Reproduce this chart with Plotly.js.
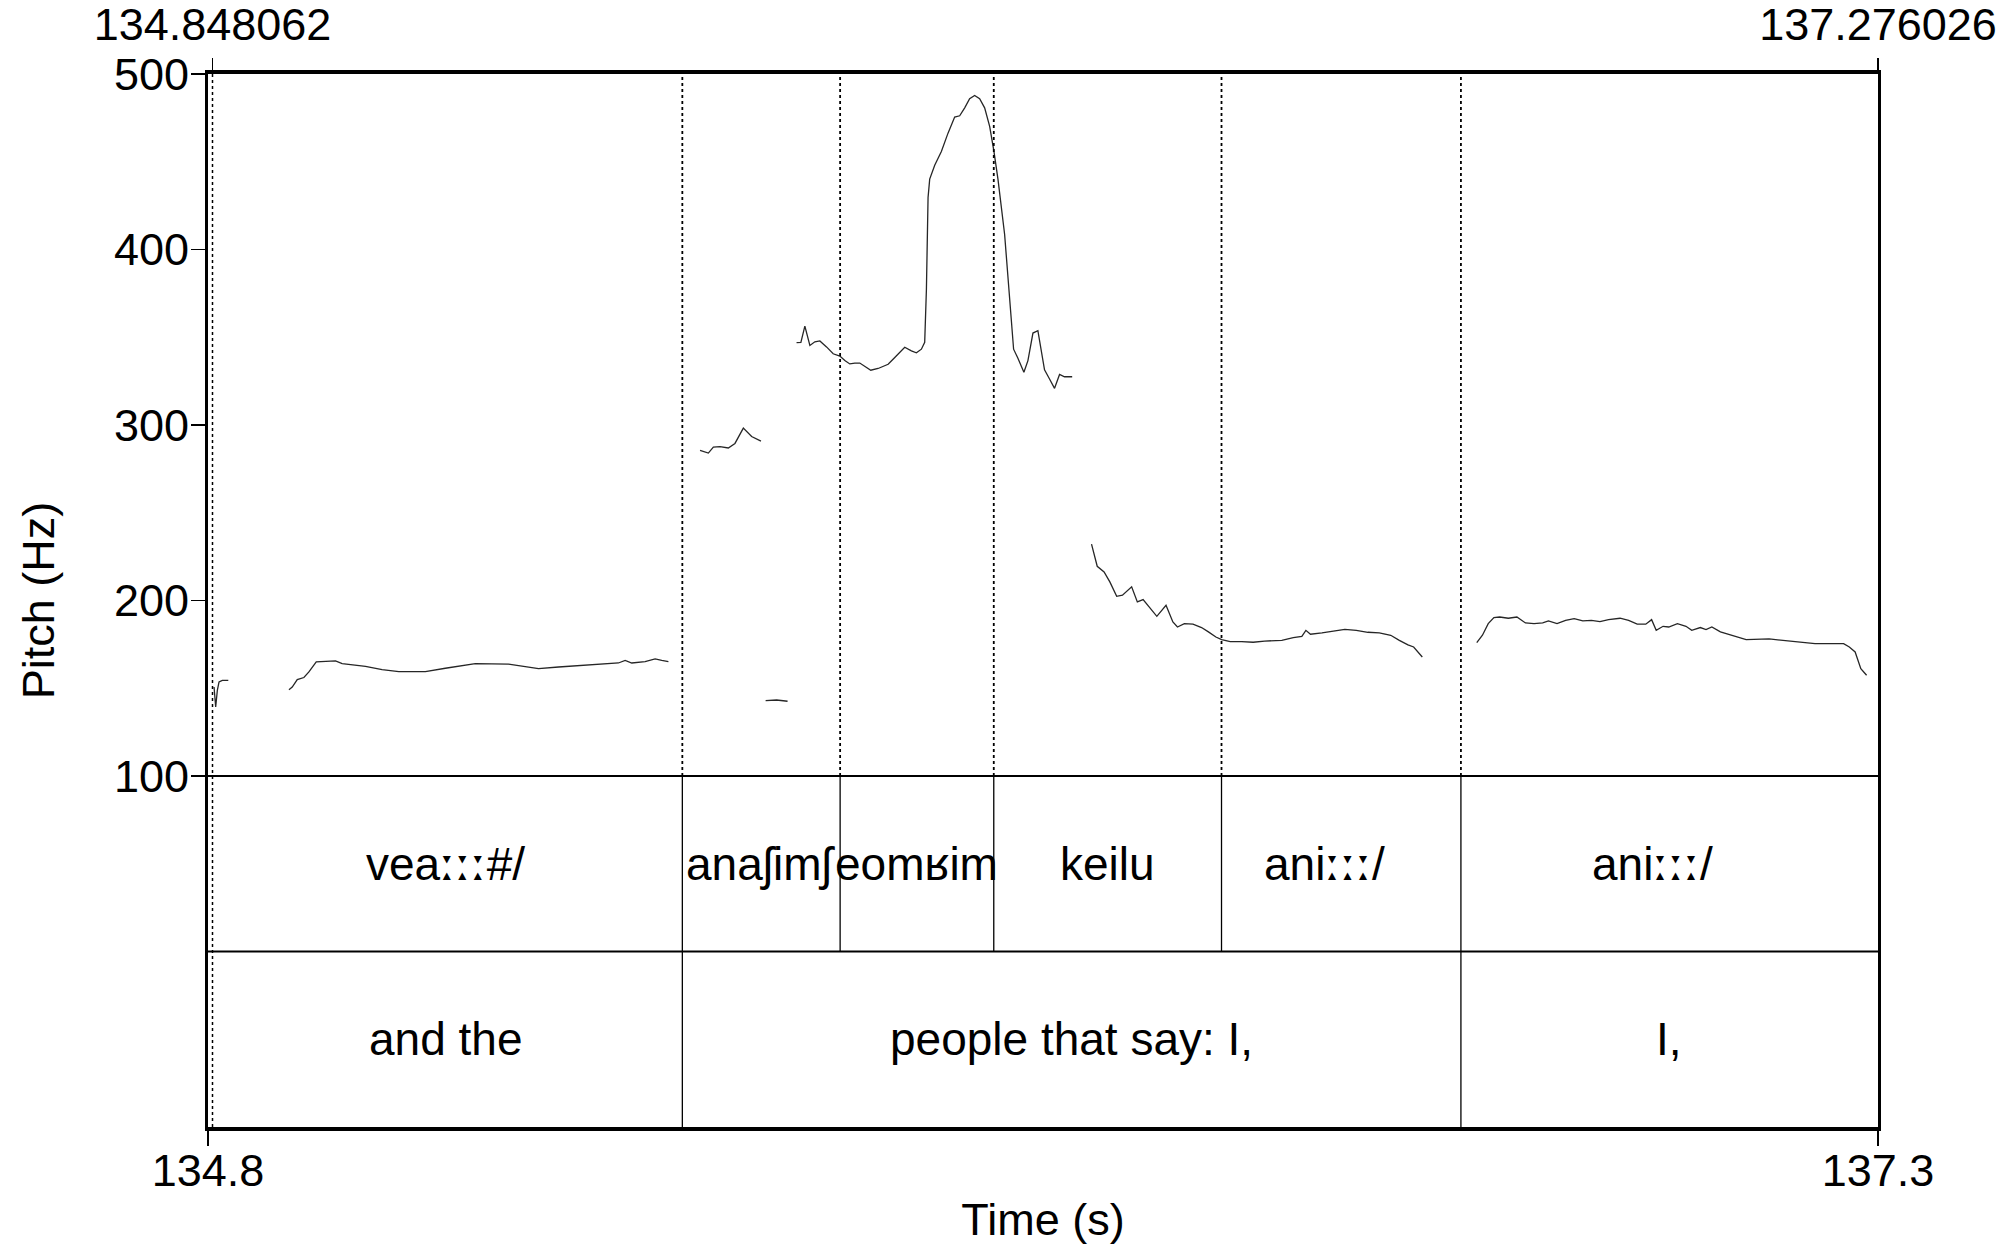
<!DOCTYPE html>
<html>
<head>
<meta charset="utf-8">
<script src="https://cdn.plot.ly/plotly-3.0.1.min.js"></script>
<style>html,body{margin:0;padding:0;background:#fff;}</style>
</head>
<body>
<div id="chart" style="width:2010px;height:1245px;"></div>
<script>
// ---- Data ----
const windowStart = 134.8415;
const windowEnd = 137.276026;
const topMarkVals = [134.848062, 137.276026];
const topMarkText = ['134.848062', '137.276026'];
const bottomTickVals = [windowStart, windowEnd];
const bottomTickText = ['134.8', '137.3'];
const pitchTicks = [100, 200, 300, 400, 500];

// pitch contour pieces (time in s, F0 in Hz)
const segA_t = [134.8503, 134.8527, 134.8551, 134.8576, 134.8624, 134.8711];
const segA_hz = [150.7, 139.3, 148.8, 153.6, 154.5, 154.5];

const segB_t = [134.9595, 134.9643, 134.9716, 134.9813, 134.9886, 134.9993, 135.0274, 135.0371, 135.0711, 135.0953, 135.1196, 135.1584, 135.1875, 135.2312, 135.2797, 135.304, 135.3234, 135.3525, 135.4011, 135.4399, 135.4496, 135.4593, 135.4787, 135.4933, 135.503, 135.5127];
const segB_hz = [149.2, 150.7, 154.9, 156.1, 159.3, 165.0, 165.6, 164.0, 162.5, 160.6, 159.5, 159.5, 161.4, 164.0, 163.7, 162.1, 161.2, 162.1, 163.3, 164.4, 165.9, 164.4, 165.2, 166.7, 165.9, 165.2];

const segC_t = [135.5588, 135.5709, 135.5782, 135.5879, 135.6, 135.6097, 135.6219, 135.634, 135.6476];
const segC_hz = [285.6, 284.0, 287.4, 287.7, 286.9, 289.5, 298.2, 293.4, 290.8];

const segD_t = [135.6544, 135.6704, 135.6864];
const segD_hz = [142.9, 143.3, 142.6];

const segE_t = [135.6995, 135.7058, 135.7116, 135.7189, 135.7262, 135.7335, 135.7432, 135.7529, 135.7626, 135.7699, 135.7771, 135.7844, 135.7917, 135.799, 135.8077, 135.8184, 135.833, 135.8427, 135.8572, 135.8669, 135.8742, 135.8815, 135.8863, 135.8888, 135.8912, 135.8936, 135.9009, 135.9106, 135.9203, 135.93, 135.9373, 135.9446, 135.9518, 135.9591, 135.9664, 135.9737, 135.981, 135.9873, 135.9931, 136.0028, 136.0076, 136.0115, 136.0159, 136.0222, 136.0309, 136.0368, 136.0441, 136.0513, 136.0562, 136.061, 136.0683, 136.0756, 136.0829, 136.0901, 136.1013];
const segE_hz = [346.9, 347.1, 356.3, 345.3, 347.4, 347.9, 344.5, 340.6, 339.3, 336.7, 334.8, 335.3, 335.3, 333.3, 331.2, 332.2, 334.6, 338.5, 344.3, 342.2, 341.1, 343.2, 347.1, 377.2, 429.6, 440.1, 448.0, 455.8, 466.3, 475.5, 476.2, 480.7, 485.9, 487.8, 485.9, 480.7, 470.2, 455.8, 440.1, 408.7, 385.1, 364.2, 343.2, 338.0, 330.1, 336.7, 352.4, 353.7, 343.2, 331.4, 326.2, 320.9, 328.8, 327.5, 327.5];

const segF_t = [136.1295, 136.1378, 136.1478, 136.1562, 136.1662, 136.1746, 136.188, 136.1963, 136.2047, 136.213, 136.2247, 136.2381, 136.2481, 136.2548, 136.2648, 136.2774, 136.2899, 136.2999, 136.3108, 136.3192, 136.3317, 136.3484, 136.3651, 136.3818, 136.4069, 136.4236, 136.4361, 136.442, 136.4487, 136.4654, 136.4821, 136.4988, 136.5155, 136.5323, 136.549, 136.5657, 136.5782, 136.5908, 136.5991, 136.6117];
const segF_hz = [232.1, 219.5, 216.3, 210.6, 202.4, 203.0, 207.8, 199.2, 200.5, 196.3, 191.0, 197.3, 187.8, 184.9, 186.8, 186.5, 184.6, 182.1, 179.2, 177.7, 176.6, 176.6, 176.2, 176.9, 177.3, 178.8, 179.6, 183.0, 180.8, 181.5, 182.7, 183.6, 183.0, 181.9, 181.5, 180.2, 177.3, 174.7, 173.5, 167.8];

const segG_t = [136.6911, 136.6994, 136.7078, 136.7161, 136.7245, 136.7371, 136.7496, 136.7621, 136.7746, 136.7872, 136.7956, 136.8081, 136.8206, 136.8331, 136.8457, 136.8582, 136.8707, 136.8832, 136.9, 136.9125, 136.925, 136.9375, 136.946, 136.9527, 136.9627, 136.971, 136.9836, 136.9961, 137.0045, 137.017, 137.0253, 137.0338, 137.0463, 137.0629, 137.0838, 137.1173, 137.1507, 137.1842, 137.2259, 137.2342, 137.2427, 137.251, 137.2594];
const segG_hz = [176.0, 180.2, 186.8, 190.3, 190.6, 189.9, 190.6, 187.2, 186.8, 187.2, 188.4, 186.8, 188.7, 189.7, 188.4, 188.7, 188.0, 189.1, 189.9, 188.7, 186.5, 186.5, 189.1, 183.0, 185.3, 184.9, 186.8, 185.3, 183.0, 184.6, 183.4, 184.9, 182.1, 180.2, 177.7, 178.1, 176.6, 175.4, 175.4, 173.5, 170.7, 161.2, 157.4];

// TextGrid tiers
const phoneBounds = [135.533, 135.763, 135.987, 136.319, 136.668];
const phoneLabels = ['veaːːː#/', 'anaʃimʃ', 'eomʁim', 'keilu', 'aniːːː/', 'aniːːː/'];
const wordBounds = [135.533, 136.668];
const wordLabels = ['and the', 'people that say: I,', 'I,'];

// ---- Drawing ----
const FONT = 'Liberation Sans, Arial, Helvetica, sans-serif';
const FS = 45;
const TFS = 46;
const segments = [[segA_t, segA_hz], [segB_t, segB_hz], [segC_t, segC_hz], [segD_t, segD_hz],
                  [segE_t, segE_hz], [segF_t, segF_hz], [segG_t, segG_hz]];
const traces = segments.map(s => ({
  x: s[0], y: s[1], type: 'scatter', mode: 'lines', xaxis: 'x', yaxis: 'y',
  line: {color: '#262626', width: 1.3}, hoverinfo: 'skip', showlegend: false
}));
// invisible trace to activate the top axis
traces.push({x: topMarkVals, y: [500, 500], xaxis: 'x2', yaxis: 'y', mode: 'lines',
  line: {width: 0}, showlegend: false, hoverinfo: 'skip'});

const TIER1_LO = 0, TIER1_HI = 100, TIER2_LO = -100, TIER2_HI = 0;
const shapes = [];
// dotted boundary lines through pitch area
phoneBounds.forEach(b => shapes.push({type: 'line', xref: 'x', yref: 'y', x0: b, x1: b, y0: TIER1_HI, y1: 500,
  line: {color: '#000', width: 1.8, dash: '3px,3px'}}));
// dotted mark at window start, whole height
shapes.push({type: 'line', xref: 'x', yref: 'y', x0: topMarkVals[0], x1: topMarkVals[0], y0: TIER2_LO, y1: 500,
  line: {color: '#000', width: 1.5, dash: '3px,3px'}});
// tier boundaries
phoneBounds.forEach(b => shapes.push({type: 'line', xref: 'x', yref: 'y', x0: b, x1: b, y0: TIER1_LO, y1: TIER1_HI,
  line: {color: '#000', width: 1.3}}));
wordBounds.forEach(b => shapes.push({type: 'line', xref: 'x', yref: 'y', x0: b, x1: b, y0: TIER2_LO, y1: TIER2_HI,
  line: {color: '#000', width: 1.3}}));
// horizontal tier separators
[TIER1_HI, TIER1_LO].forEach(v => shapes.push({type: 'line', xref: 'paper', yref: 'y', x0: 0, x1: 1, y0: v, y1: v,
  line: {color: '#000', width: 1.8}}));

// IPA length marks rendered with DejaVu Sans (triangular glyphs)
function styleLabel(lab) {
  return lab.replace(/(ː+)/g, "<span style=\"font-family:'DejaVu Sans'\">$1</span>");
}

const annotations = [];
function addTier(bounds, labels, yMid, shiftFn) {
  const edges = [windowStart].concat(bounds).concat([windowEnd]);
  labels.forEach((lab, i) => {
    annotations.push({x: (edges[i] + edges[i + 1]) / 2, y: yMid, xref: 'x', yref: 'y', text: styleLabel(lab),
      showarrow: false, xanchor: 'center', yanchor: 'middle', xshift: shiftFn(lab),
      font: {family: FONT, size: TFS, color: '#000'}});
  });
}
addTier(phoneBounds, phoneLabels, (TIER1_LO + TIER1_HI) / 2, lab => lab.startsWith('ani') ? -17 : 0);
addTier(wordBounds, wordLabels, (TIER2_LO + TIER2_HI) / 2, () => 0);

const layout = {
  width: 2010, height: 1245,
  margin: {l: 208, r: 132, t: 74, b: 118, pad: 0},
  paper_bgcolor: '#fff', plot_bgcolor: '#fff',
  font: {family: FONT, size: FS, color: '#000'},
  showlegend: false,
  xaxis: {
    range: [windowStart, windowEnd], showgrid: false, zeroline: false,
    showline: true, linecolor: '#000', linewidth: 4,
    ticks: 'outside', ticklen: 15, tickwidth: 1.8, tickcolor: '#000',
    ticklabelstandoff: -14,
    tickmode: 'array', tickvals: bottomTickVals, ticktext: bottomTickText,
    tickfont: {family: FONT, size: FS, color: '#000'},
    title: {text: 'Time (s)', font: {family: FONT, size: FS, color: '#000'}, standoff: 29}
  },
  xaxis2: {
    overlaying: 'x', side: 'top', anchor: 'y', range: [windowStart, windowEnd],
    showgrid: false, zeroline: false, showline: true, linecolor: '#000', linewidth: 4,
    ticks: 'outside', ticklen: 12, tickwidth: 1.8, tickcolor: '#000',
    tickmode: 'array', tickvals: topMarkVals, ticktext: topMarkText,
    tickfont: {family: FONT, size: FS, color: '#000'}
  },
  yaxis: {
    range: [TIER2_LO, 500], showgrid: false, zeroline: false,
    showline: true, mirror: true, linecolor: '#000', linewidth: 3,
    ticks: 'outside', ticklen: 14, tickwidth: 1.8, tickcolor: '#000',
    ticklabelstandoff: -7,
    tickmode: 'array', tickvals: pitchTicks, ticktext: pitchTicks.map(String),
    tickfont: {family: FONT, size: FS, color: '#000'},
    title: {text: 'Pitch (Hz)', font: {family: FONT, size: FS, color: '#000'}, standoff: 46}
  },
  shapes: shapes,
  annotations: annotations
};

Plotly.newPlot('chart', traces, layout, {staticPlot: true, displayModeBar: false});
</script>
</body>
</html>
